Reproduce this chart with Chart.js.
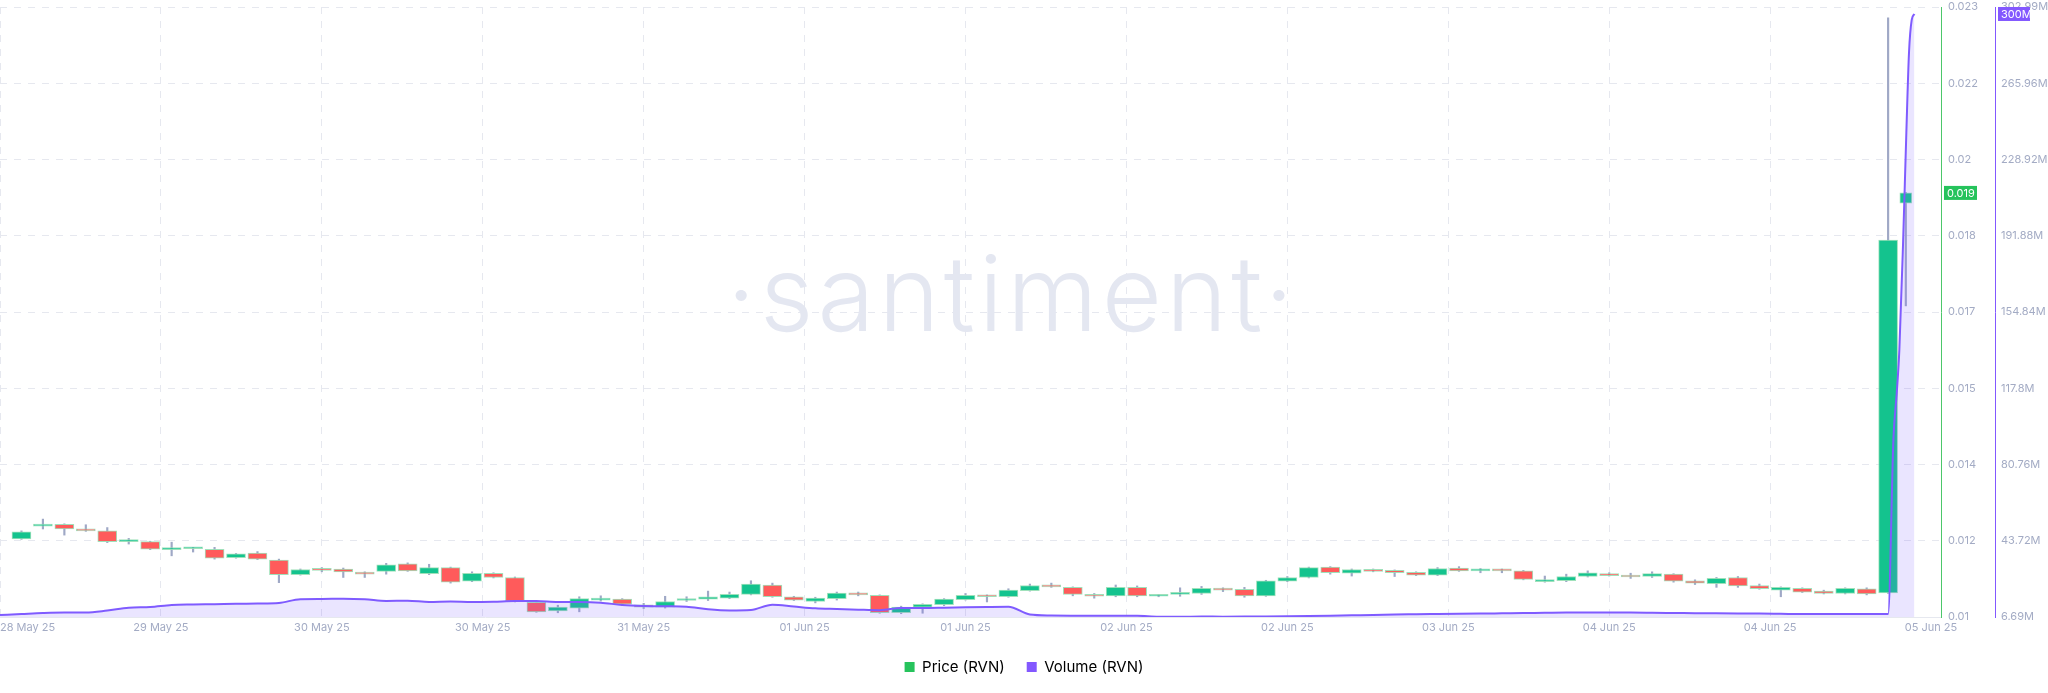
<!DOCTYPE html>
<html>
<head>
<meta charset="utf-8">
<script src="https://cdn.jsdelivr.net/npm/chart.js@4.4.1/dist/chart.umd.min.js"></script>
<style>
  html, body { margin: 0; padding: 0; background: #ffffff; }
  #wrap { width: 2048px; height: 693px; }
</style>
</head>
<body>
<div id="wrap"><canvas id="rvnChart" width="2048" height="693"></canvas></div>
<script>
// RVN price (2h candles) and volume, 28 May - 05 Jun 25

// x tick labels, one every 15 hours from the start of the range
const tickLabels = ['28 May 25', '29 May 25', '30 May 25', '30 May 25', '31 May 25', '01 Jun 25', '01 Jun 25',
    '02 Jun 25', '02 Jun 25', '03 Jun 25', '04 Jun 25', '04 Jun 25', '05 Jun 25'];
const priceTickLabels = ['0.01', '0.012', '0.014', '0.015', '0.017', '0.018', '0.02', '0.022', '0.023'];
const volumeTickLabels = ['6.69M', '43.72M', '80.76M', '117.8M', '154.84M', '191.88M', '228.92M', '265.96M', '302.99M'];

const opens = [
    .01196, .01223, .01227, .01217, .01213, .0119, .0119, .01173, .01175, .01174,
    .01156, .01166, .01151, .0112, .01131, .01132, .01123, .01127, .01143, .01122,
    .01135, .01106, .01123, .01114, .01061, .01043, .01049, .01066, .01068, .01056,
    .01051, .01065, .01068, .0107, .01078, .01098, .01073, .01063, .01069, .01081,
    .01076, .01039, .01051, .01056, .01067, .01076, .01073, .01086, .01097, .01093,
    .01078, .01075, .01093, .01074, .01078, .0108, .01091, .01089, .01075, .01106,
    .01114, .01136, .01123, .0113, .01129, .01125, .01119, .01134, .01128, .01131,
    .01128, .01105, .01107, .01116, .01122, .01117, .01116, .01121, .01107, .01101,
    .01114, .01097, .01087, .01091, .01085, .0108, .0109, .01081, .01909
];
const highs = [
    .01213, .01238, .01228, .01226, .0122, .01197, .01191, .01189, .01178, .01178,
    .01165, .01169, .01153, .01132, .01135, .01134, .01126, .01144, .01145, .01142,
    .01136, .01126, .01124, .01115, .01062, .01055, .01073, .01075, .01069, .01059,
    .01074, .01073, .01085, .01083, .01107, .01102, .01074, .01072, .01083, .01083,
    .01077, .01053, .01058, .01069, .0108, .01077, .0109, .011, .01102, .01094,
    .0108, .01098, .01096, .01078, .01092, .01095, .01092, .01093, .01108, .01116,
    .01136, .01137, .01132, .01132, .0113, .01126, .01135, .01137, .01133, .01132,
    .01129, .01117, .01121, .01128, .01124, .01123, .01126, .01122, .01109, .01114,
    .01116, .011, .01094, .01092, .01087, .01092, .01092, .02303, .01932
];
const lows = [
    .01195, .01217, .01204, .01212, .01188, .01185, .01173, .0116, .01168, .01153,
    .01155, .01152, .01103, .01119, .01126, .01114, .01114, .01121, .01127, .0112,
    .01102, .01105, .01113, .01062, .0104, .01039, .01041, .01064, .01055, .01048,
    .01049, .01063, .01065, .01069, .01077, .01072, .01065, .0106, .01066, .01075,
    .01038, .01037, .01038, .01054, .01066, .01062, .01072, .01085, .01093, .01075,
    .0107, .01073, .01073, .01073, .01074, .01078, .01084, .01072, .01074, .01105,
    .01113, .01121, .01117, .01126, .01116, .01118, .01118, .01127, .01124, .01124,
    .01109, .01104, .01105, .01115, .01117, .01112, .01114, .01104, .01099, .01093,
    .01093, .01089, .01073, .01082, .01079, .01079, .01077, .0108, .01691
];
const closes = [
    .01211, .01227, .01217, .01213, .0119, .01193, .01174, .01177, .01177, .01155,
    .01164, .01153, .0112, .01131, .01129, .01126, .01121, .01141, .01128, .01135,
    .01104, .01123, .01114, .01063, .01041, .01051, .01069, .01069, .01057, .01051,
    .01063, .01068, .01073, .01078, .011, .01073, .01066, .0107, .01081, .01077,
    .01039, .01051, .01057, .01068, .01076, .01073, .01087, .01097, .01094, .01078,
    .01074, .01093, .01075, .01077, .01082, .01091, .01087, .01075, .01107, .01114,
    .01135, .01124, .01131, .01127, .01124, .01119, .01133, .01128, .01131, .01128,
    .0111, .01109, .01116, .01124, .01118, .01115, .01122, .01106, .01102, .01112,
    .01096, .0109, .01093, .01083, .0108, .01091, .01079, .01831, .01931
];
// the last candle is the unfinished one
const liveCandleHour = 177.65;

// 24h volume in millions; regular samples every 2h, then the spike at the end
const volumeSpikeHours = [176.5, 176.8, 177.05, 177.4, 177.7, 177.95, 178.2, 178.45];
const volumeValues = [
    7.66, 8.15, 8.63, 8.88, 8.88, 9.85, 11.21, 11.55, 12.52, 12.76,
    12.91, 13.10, 13.2, 13.49, 15.34, 15.43, 15.58, 15.29, 14.46, 14.61,
    13.98, 14.22, 13.98, 14.12, 14.46, 14.46, 13.98, 13.98, 13.64, 12.52,
    12.03, 11.89, 11.64, 10.43, 9.85, 10.09, 12.66, 11.79, 10.92, 10.58,
    10.24, 9.99, 11.06, 11.06, 11.21, 11.40, 11.55, 11.64, 7.9, 7.42,
    7.32, 7.27, 7.27, 7.27, 6.79, 6.79, 6.93, 6.84, 6.88, 6.98,
    7.08, 7.18, 7.32, 7.52, 7.66, 7.95, 8.05, 8.15, 8.24, 8.34,
    8.49, 8.63, 8.73, 8.83, 8.83, 8.88, 8.83, 8.73, 8.63, 8.54,
    8.49, 8.44, 8.34, 8.24, 8.15, 8.15, 8.15, 8.15, 8.15,
    93.74, 115.2, 136.7, 189.3, 242.0, 281.1, 296.7, 299.6
];

const PRICE_MIN = 0.0103, PRICE_MAX = 0.02326;
const VOL_MIN = 6.69, VOL_MAX = 302.99;
const X_MAX = 180.93;

const GREEN = '#14c38e';
const RED = '#ff5b5b';
const PURPLE = '#7f5bff';
const GRID = '#e6e8ef';
const TICK = '#a3abc4';
const FONT = 'Inter, "Open Sans", sans-serif';

document.addEventListener('DOMContentLoaded', function() {
    const last = opens.length - 1;

    function candleHour(i) {
        return i === last ? liveCandleHour : 2 + 2 * i;
    }

    const bodies = [];
    const wicks = [];
    opens.forEach((o, i) => {
        if (i !== last) {
            bodies.push({ x: candleHour(i), y: [o, closes[i]], up: closes[i] >= o });
        }
        wicks.push({ x: candleHour(i), y: [lows[i], highs[i]] });
    });
    const liveBody = [{ x: liveCandleHour, y: [opens[last], closes[last]], up: closes[last] >= opens[last] }];

    const regularCount = volumeValues.length - volumeSpikeHours.length;
    const volumeData = volumeValues.map((v, i) => ({
        x: i < regularCount ? 2 * i : volumeSpikeHours[i - regularCount],
        y: v
    }));

    function evenTicks(min, max, n) {
        const out = [];
        for (let i = 0; i <= n; i++) {
            out.push({ value: min + (max - min) * i / n });
        }
        return out;
    }

    // keeps the top/bottom tick labels from pushing the plot area in
    function fixVerticalPadding(scale) {
        scale.paddingTop = 7;
        scale.paddingBottom = 0;
    }

    // faint brand text behind the candles
    const watermark = {
        id: 'watermark',
        beforeDatasetsDraw(chart) {
            const ctx = chart.ctx;
            ctx.save();
            ctx.font = '300 104px ' + FONT;
            ctx.letterSpacing = '4px';
            ctx.fillStyle = '#e4e7f1';
            ctx.textAlign = 'center';
            ctx.textBaseline = 'middle';
            ctx.fillText('·santiment·', 1012, 300);
            ctx.restore();
        }
    };

    // last value tags on both y axes
    const lastValueTags = {
        id: 'lastValueTags',
        afterDraw(chart) {
            const ctx = chart.ctx;
            const yPrice = chart.scales.y;
            const yVol = chart.scales.y1;
            const lastClose = closes[last];
            const lastVol = volumeValues[volumeValues.length - 1];

            function tag(x, y, w, bg, text) {
                ctx.fillStyle = bg;
                ctx.fillRect(x, y - 7, w, 14);
                ctx.fillStyle = '#ffffff';
                ctx.font = '11px ' + FONT;
                ctx.textAlign = 'left';
                ctx.textBaseline = 'middle';
                ctx.fillText(text, x + 3, y + 0.5);
            }

            ctx.save();
            tag(yPrice.left + 3, yPrice.getPixelForValue(lastClose), 33, '#26c35c', lastClose.toFixed(3));
            tag(yVol.left + 3, yVol.getPixelForValue(lastVol), 32, '#8358ff', Math.round(lastVol) + 'M');
            ctx.restore();
        }
    };

    const ctx = document.getElementById('rvnChart').getContext('2d');
    new Chart(ctx, {
        type: 'bar',
        data: {
            datasets: [
                {
                    type: 'line',
                    label: 'Volume (RVN)',
                    data: volumeData,
                    yAxisID: 'y1',
                    borderColor: PURPLE,
                    borderWidth: 2,
                    backgroundColor: 'rgba(127, 91, 255, 0.16)',
                    fill: 'start',
                    pointRadius: 0,
                    cubicInterpolationMode: 'monotone',
                    order: 0
                },
                {
                    label: 'body',
                    data: bodies,
                    yAxisID: 'y',
                    grouped: false,
                    barThickness: 19,
                    minBarLength: 2,
                    borderSkipped: false,
                    borderWidth: 1,
                    borderColor: 'rgba(150, 222, 180, 0.9)',
                    backgroundColor: c => (c.raw && c.raw.up ? GREEN : RED),
                    order: 1
                },
                {
                    label: 'live body',
                    data: liveBody,
                    yAxisID: 'y',
                    grouped: false,
                    barThickness: 12,
                    minBarLength: 2,
                    borderSkipped: false,
                    borderWidth: 1,
                    borderColor: 'rgba(150, 222, 180, 0.9)',
                    backgroundColor: c => (c.raw && c.raw.up ? GREEN : RED),
                    order: 1
                },
                {
                    label: 'wick',
                    data: wicks,
                    yAxisID: 'y',
                    grouped: false,
                    barThickness: 1.5,
                    borderWidth: 0,
                    backgroundColor: '#9fa8c6',
                    order: 2
                }
            ]
        },
        options: {
            responsive: false,
            devicePixelRatio: 1,
            animation: false,
            layout: { padding: { left: 0, right: 0, top: 0, bottom: 8.5 } },
            plugins: {
                tooltip: { enabled: false },
                legend: {
                    position: 'bottom',
                    labels: {
                        boxWidth: 10,
                        boxHeight: 10,
                        padding: 22,
                        color: '#3a3f4d',
                        font: { size: 15, family: FONT },
                        generateLabels: function() {
                            return [
                                { text: 'Price (RVN)', fillStyle: '#26c35c', strokeStyle: '#26c35c', lineWidth: 0, hidden: false, datasetIndex: 1 },
                                { text: 'Volume (RVN)', fillStyle: '#8358ff', strokeStyle: '#8358ff', lineWidth: 0, hidden: false, datasetIndex: 0 }
                            ];
                        }
                    }
                }
            },
            scales: {
                x: {
                    type: 'linear',
                    min: 0,
                    max: X_MAX,
                    offset: false,
                    afterBuildTicks: function(scale) {
                        const t = tickLabels.map((_, i) => ({ value: i * 15 }));
                        t.push({ value: X_MAX });
                        scale.ticks = t;
                    },
                    afterFit: function(scale) {
                        scale.paddingLeft = 0;
                        scale.paddingRight = 0;
                        scale.height = 20.5;
                    },
                    grid: {
                        offset: false,
                        drawTicks: false,
                        color: c => (c.index >= tickLabels.length - 1 ? 'rgba(0,0,0,0)' : GRID)
                    },
                    border: { color: GRID, dash: [7, 7] },
                    ticks: {
                        autoSkip: false,
                        maxRotation: 0,
                        align: 'inner',
                        padding: 4,
                        color: TICK,
                        font: { size: 11, family: FONT },
                        callback: function(value, index) {
                            return tickLabels[index] || '';
                        }
                    }
                },
                y: {
                    type: 'linear',
                    position: 'right',
                    min: PRICE_MIN,
                    max: PRICE_MAX,
                    afterBuildTicks: function(scale) {
                        scale.ticks = evenTicks(PRICE_MIN, PRICE_MAX, priceTickLabels.length - 1);
                    },
                    afterFit: function(scale) {
                        scale.width = 54;
                        fixVerticalPadding(scale);
                    },
                    grid: { drawTicks: false, color: GRID },
                    border: { color: '#4cc76a', width: 1, dash: [7, 7] },
                    ticks: {
                        padding: 7,
                        color: TICK,
                        font: { size: 11, family: FONT },
                        callback: function(value, index) {
                            return priceTickLabels[index];
                        }
                    }
                },
                y1: {
                    type: 'linear',
                    position: 'right',
                    min: VOL_MIN,
                    max: VOL_MAX,
                    afterBuildTicks: function(scale) {
                        scale.ticks = evenTicks(VOL_MIN, VOL_MAX, volumeTickLabels.length - 1);
                    },
                    afterFit: function(scale) {
                        scale.width = 53;
                        fixVerticalPadding(scale);
                    },
                    grid: { drawOnChartArea: false, drawTicks: false },
                    border: { color: '#8358ff', width: 1 },
                    ticks: {
                        padding: 6,
                        color: TICK,
                        font: { size: 11, family: FONT },
                        callback: function(value, index) {
                            return volumeTickLabels[index];
                        }
                    }
                }
            }
        },
        plugins: [watermark, lastValueTags]
    });
});
</script>
</body>
</html>
